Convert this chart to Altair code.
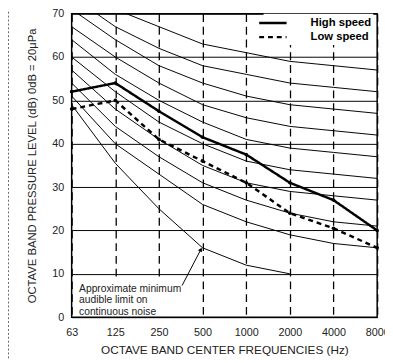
import json
import altair as alt
import pandas as pd

# ---------------- data ----------------
freq_labels = ["63", "125", "250", "500", "1000", "2000", "4000", "8000"]

nc_names = ["NC-20", "NC-25", "NC-30", "NC-35", "NC-40", "NC-45", "NC-50", "NC-55", "NC-60"]
nc_20 = [51, 40, 33, 26, 22, 19, 17, 16]
nc_25 = [54, 44, 37, 31, 27, 24, 22, 21]
nc_30 = [57, 48, 41, 35, 31, 29, 28, 27]
nc_35 = [60, 52, 45, 40, 36, 34, 33, 32]
nc_40 = [64, 56, 50, 45, 41, 39, 38, 37]
nc_45 = [67, 60, 54, 49, 46, 44, 43, 42]
nc_50 = [71, 64, 58, 54, 51, 49, 48, 47]
nc_55 = [74, 67, 62, 58, 56, 54, 53, 52]
nc_60 = [77, 71, 67, 63, 61, 59, 58, 57]
nc_values = [nc_20, nc_25, nc_30, nc_35, nc_40, nc_45, nc_50, nc_55, nc_60]

threshold = [49, 35.5, 25, 16, 12, 10]          # 63 .. 2000 Hz

series_names = ["High speed", "Low speed"]
high_speed = [52, 54, 47.5, 41.5, 37.5, 31, 27, 20]
low_speed = [48, 50, 41, 36, 31, 24, 20.5, 16]

note_lines = ["Approximate minimum", "audible limit on", "continuous noise"]

x_title = "OCTAVE  BAND  CENTER  FREQUENCIES (Hz)"
y_title = "OCTAVE  BAND  PRESSURE  LEVEL (dB) 0dB = 20\u03bcPa"

# annotation placement (data coordinates: band index, dB)
note_x = 0.17
note_y = [6.55, 4.05, 1.15]
note_box = dict(x=0.05, x2=2.5, y=0.3, y2=9.1)
arrow = dict(x=2.53, y=7.3, x2=2.96, y2=15.6)

FONT = "Liberation Sans"

# ---------------- tables ----------------
nc_df = pd.DataFrame(
    [{"curve": n, "idx": i, "db": v}
     for n, vals in zip(nc_names, nc_values) for i, v in enumerate(vals)]
)
thr_df = pd.DataFrame({"idx": list(range(len(threshold))), "db": threshold})
sp_df = pd.DataFrame(
    [{"series": s, "idx": i, "db": v}
     for s, vals in zip(series_names, [high_speed, low_speed]) for i, v in enumerate(vals)]
)
note_df = pd.DataFrame({"x": [note_x] * 3, "y": note_y, "t": note_lines})
box_df = pd.DataFrame([note_box])
arrow_df = pd.DataFrame([arrow])

label_expr = json.dumps(freq_labels) + "[datum.value]"

x_enc = alt.X(
    "idx:Q",
    scale=alt.Scale(domain=[0, 7], nice=False, zero=False),
    axis=alt.Axis(
        values=list(range(8)), labelExpr=label_expr, title=x_title,
        grid=True, gridDash=[8, 5], gridColor="black", gridWidth=1.3,
        ticks=False, domain=False, labelPadding=10, labelFontSize=11,
        labelColor="#222", labelFont=FONT, titleFont=FONT, titleFontSize=12,
        titleFontWeight="normal", titleColor="#222", titlePadding=7,
        labelOverlap=False, labelFlush=False,
    ),
)
y_enc = alt.Y(
    "db:Q",
    scale=alt.Scale(domain=[0, 70], nice=False),
    axis=alt.Axis(
        values=list(range(0, 71, 10)), title=y_title, grid=True,
        gridColor="black", gridWidth=1, ticks=False, domain=False,
        labelPadding=8, labelFontSize=11, labelColor="#222", labelFont=FONT,
        titleFont=FONT, titleFontSize=11.5, titleFontWeight="normal",
        titleColor="#222", titleX=-40, titleY=155, titleAlign="center",
        titleBaseline="middle",
    ),
)

nc_layer = alt.Chart(nc_df).mark_line(color="black", strokeWidth=1, clip=True).encode(
    x=x_enc, y=y_enc, detail="curve:N", order="idx:Q"
)
thr_layer = alt.Chart(thr_df).mark_line(color="black", strokeWidth=1).encode(
    x="idx:Q", y="db:Q"
)
sp_layer = alt.Chart(sp_df).mark_line(color="black", strokeWidth=2.5).encode(
    x="idx:Q", y="db:Q",
    strokeDash=alt.StrokeDash(
        "series:N",
        scale=alt.Scale(domain=series_names, range=[[1, 0], [5, 4]]),
        legend=alt.Legend(
            title=None, orient="none", legendX=196, legendY=0, fillColor="white",
            padding=2, symbolType="M-2.33,0H2.33", symbolSize=144, symbolStrokeWidth=2.5,
            symbolStrokeColor="black", symbolFillColor="transparent",
            labelFont=FONT, labelFontWeight="bold",
            labelFontSize=11.5, labelColor="black", labelOffset=31, rowPadding=1.5,
        ),
    ),
    order="idx:Q",
)
pt_layer = alt.Chart(sp_df).mark_point(filled=True, size=14, color="black", opacity=1).encode(
    x="idx:Q", y="db:Q"
)
box_layer = alt.Chart(box_df).mark_rect(color="white").encode(
    x="x:Q", x2="x2", y="y:Q", y2="y2"
)
note_layer = alt.Chart(note_df).mark_text(
    align="left", baseline="middle", fontSize=10.5, font=FONT, color="#222"
).encode(x="x:Q", y="y:Q", text="t:N")
arrow_line = alt.Chart(arrow_df).mark_rule(color="black", strokeWidth=1).encode(
    x="x:Q", y="y:Q", x2="x2", y2="y2"
)
arrow_head = alt.Chart(arrow_df).mark_point(
    shape="triangle-up", filled=True, size=22, color="black", opacity=1, angle=27
).encode(x="x2:Q", y="y2:Q")
border = alt.Chart(pd.DataFrame({"a": [0]})).mark_rule(
    strokeDash=[2, 2], color="#666", strokeWidth=1, clip=False
).encode(x=alt.value(-64.5), y=alt.value(-2), y2=alt.value(353))

chart = alt.layer(
    nc_layer, thr_layer, sp_layer, pt_layer, box_layer, note_layer,
    arrow_line, arrow_head, border,
).properties(
    width=312, height=310, autosize="none",
    padding={"left": 65, "top": 2, "right": 8, "bottom": 43},
    background="white",
).configure_view(stroke="black", strokeWidth=1.5)

chart.save("out.html", embed_options={"renderer": "svg", "actions": False})
